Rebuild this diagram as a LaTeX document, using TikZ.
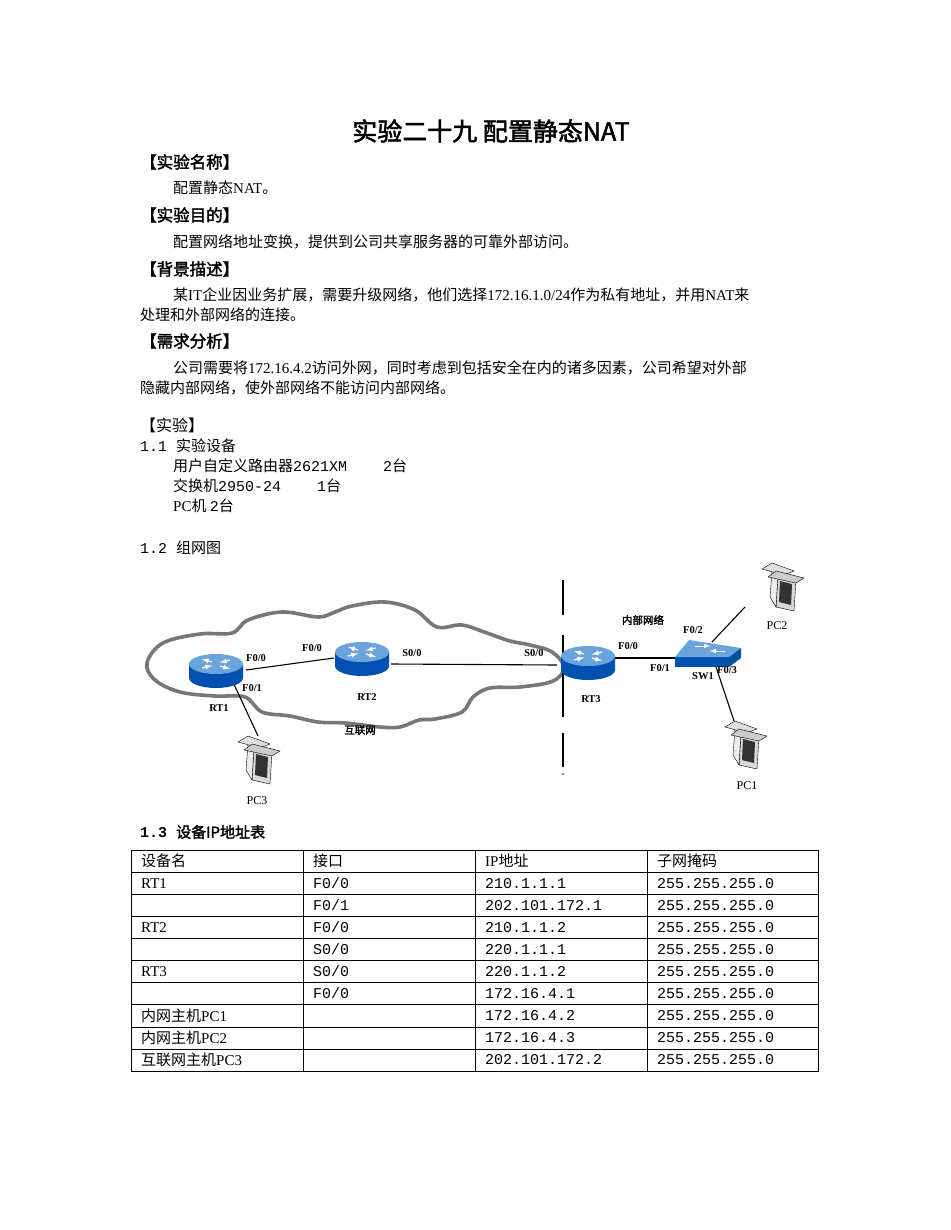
\documentclass[tikz,border=0pt]{standalone}
\usepackage{fontspec}
\setmainfont{Liberation Serif}
\newfontfamily\zh{Noto Sans CJK SC}[AutoFakeBold=2]
\newfontfamily\mono{Liberation Mono}
\usetikzlibrary{shapes.geometric,calc}
\tikzset{
  txt/.style={anchor=west,inner sep=0pt,font=\fontsize{15}{16}\selectfont},
  head/.style={anchor=west,inner sep=0pt,font=\zh\bfseries\fontsize{16.5}{18}\selectfont},
  lbl/.style={inner sep=0pt,font=\bfseries\fontsize{10.5}{11}\selectfont},
  link/.style={line width=1.1pt,black},
  cell/.style={anchor=west,inner sep=0pt,font=\fontsize{15}{16}\selectfont},
  router/.pic={
    \fill[blue!55!cyan!70!black] (-27,-4) -- (-27,10) arc[start angle=180,end angle=0,x radius=27,y radius=10] -- (27,-4) -- cycle;
    \fill[cyan!60!blue!60] (0,-4) ellipse[x radius=27,y radius=10];
    \draw[white,line width=1.3pt,-latex] (-4,-6) -- (-14,-9);
    \draw[white,line width=1.3pt,-latex] (4,-2) -- (14,1);
    \draw[white,line width=1.3pt,-latex] (-14,0) -- (-4,-2.5);
    \draw[white,line width=1.3pt,-latex] (14,-8) -- (4,-5.5);
  },
  pcicon/.pic={
    \fill[gray!30,draw=black,line width=0.4pt] (-6,-20) -- (12,-24) -- (14,8) -- (-4,12) -- cycle;
    \fill[black!80] (-3,-15) -- (9,-18) -- (10,3) -- (-2,6) -- cycle;
    \fill[gray!15,draw=black,line width=0.4pt] (-12,-10) -- (-6,-20) -- (-4,12) -- (-10,16) -- cycle;
    \fill[gray!25,draw=black,line width=0.4pt] (-20,18) -- (2,12) -- (12,16) -- (-10,24) -- cycle;
    \fill[gray!40,draw=black,line width=0.4pt] (-14,10) -- (14,4) -- (22,9) -- (-6,16) -- cycle;
  }
}
\begin{document}
\begin{tikzpicture}[x=1pt,y=-1pt]
\useasboundingbox[fill=white] (0,0) rectangle (950,1230);
% title
\node[inner sep=0pt,font=\zh\bfseries\fontsize{25}{27}\selectfont] (title) at (491,131) {实验二十九 配置静态NAT};
\node[head] (h1) at (140,162) {【实验名称】};
\node[txt] (t1) at (173,188) {{\zh 配置静态}NAT{\zh 。}};
\node[head] (h2) at (140,215) {【实验目的】};
\node[txt] (t2) at (173,242) {\zh 配置网络地址变换，提供到公司共享服务器的可靠外部访问。};
\node[head] (h3) at (140,269) {【背景描述】};
\node[txt] (t3) at (173,295) {{\zh 某}IT{\zh 企业因业务扩展，需要升级网络，他们选择}172.16.1.0/24{\zh 作为私有地址，并用}NAT{\zh 来}};
\node[txt] (t4) at (140,315) {\zh 处理和外部网络的连接。};
\node[head] (h4) at (140,341) {【需求分析】};
\node[txt] (t5) at (173,368) {{\zh 公司需要将}172.16.4.2{\zh 访问外网，同时考虑到包括安全在内的诸多因素，公司希望对外部}};
\node[txt] (t6) at (140,388) {\zh 隐藏内部网络，使外部网络不能访问内部网络。};
\node[txt,font=\zh\fontsize{16}{17}\selectfont] (t7) at (140,425) {【实验】};
\node[txt] (t8) at (140,446) {{\mono 1.1 }{\zh 实验设备}};
\node[txt] (t9) at (173,466) {{\zh 用户自定义路由器}{\mono 2621XM\ \ \ \ 2}{\zh 台}};
\node[txt] (t10) at (173,486) {{\zh 交换机}{\mono 2950-24\ \ \ \ 1}{\zh 台}};
\node[txt] (t11) at (173,506) {PC{\zh 机 }{\mono 2}{\zh 台}};
\node[txt] (t12) at (140,548) {{\mono 1.2 }{\zh 组网图}};
\node[txt,font=\zh\bfseries\fontsize{15}{16}\selectfont] (t13) at (140,832) {{\mono\bfseries 1.3 }设备IP地址表};

% cloud
\draw[line width=3.6pt,draw=black!75!cyan!35!gray,fill=white] plot[smooth cycle,tension=0.6] coordinates {
 (147,663) (163,643) (200,634) (232,633) (248,620) (282,612) (318,617) (335,612) (352,606) (385,602) (415,610) (437,627) (462,625) (487,633) (510,641) (530,645) (552,652) (564,667) (553,681) (520,687) (490,688) (473,697) (462,712) (435,719) (419,720) (400,727) (380,727) (345,723) (318,722) (290,716) (262,712) (245,697) (215,696) (180,692) (155,680)};

% dashed divider
\draw[line width=1.5pt] (563,580) -- (563,615);
\draw[line width=1.5pt] (563,635) -- (563,717);
\draw[line width=1.5pt] (563,733) -- (563,767);
\fill (563,774) circle (0.9);

% devices
\coordinate (RT1) at (216,668);
\coordinate (RT2) at (362,656);
\coordinate (RT3) at (588,660);
\coordinate (SW1) at (706,653);
\coordinate (PC2) at (782,587);
\coordinate (PC1) at (745,745);
\coordinate (PC3) at (258,760);

\draw[link] ($(RT1)+(30,2)$) coordinate (a1) -- ($(RT2)+(-28,2)$) coordinate (a2);
\draw[link] (391,664) coordinate (b1) -- (557,665) coordinate (b2);
\draw[link] (612,658) coordinate (c1) -- (684,658) coordinate (c2);
\draw[link] (712,642) coordinate (d1) -- (745,607) coordinate (d2);
\draw[link] (716,667) coordinate (e1) -- (734,721) coordinate (e2);
\draw[link] (232,680) coordinate (f1) -- (258,736) coordinate (f2);

\pic at (RT1) {router};
\pic at (RT2) {router};
\pic at (RT3) {router};
% switch
\fill[blue!55!cyan!70!black] (675,657) -- (729,657) -- (729,667) -- (675,667) -- cycle;
\fill[cyan!60!blue!60] (675,657) -- (729,657) -- (741,648) -- (689,640) -- cycle;
\fill[blue!45!cyan!60!black] (729,657) -- (741,648) -- (741,658) -- (729,667) -- cycle;
\draw[white,line width=1pt,-latex] (695,646) -- (710,646);
\draw[white,line width=1pt,-latex] (725,651) -- (710,651);
\pic[yscale=-1] at (PC2) {pcicon};
\pic[yscale=-1] at (PC1) {pcicon};
\pic[yscale=-1] at (PC3) {pcicon};

% labels
\node[lbl] (lRT1) at (219,708) {RT1};
\node[lbl] (lRT2) at (367,697) {RT2};
\node[lbl] (lRT3) at (591,699) {RT3};
\node[lbl] (lSW) at (703,676) {SW1};
\node[lbl] (lneibu) at (643,620) {\zh\bfseries 内部网络};
\node[lbl] (lhulian) at (360,730) {\zh\bfseries 互联网};
\node[lbl] (f1a) at (256,658) {F0/0};
\node[lbl] (f1b) at (252,688) {F0/1};
\node[lbl] (f2a) at (312,648) {F0/0};
\node[lbl] (s2a) at (412,653) {S0/0};
\node[lbl] (s3a) at (534,653) {S0/0};
\node[lbl] (f3a) at (628,646) {F0/0};
\node[lbl] (sw1) at (660,668) {F0/1};
\node[lbl] (sw2) at (693,630) {F0/2};
\node[lbl] (sw3) at (727,670) {F0/3};
\node[inner sep=0pt,font=\fontsize{12}{13}\selectfont] (lPC2) at (777,626) {PC2};
\node[inner sep=0pt,font=\fontsize{12}{13}\selectfont] (lPC1) at (747,786) {PC1};
\node[inner sep=0pt,font=\fontsize{12}{13}\selectfont] (lPC3) at (257,801) {PC3};

% table
\draw[line width=0.6pt] (131,850) rectangle (818,1071);
\foreach \i in {1,...,9} \draw[line width=0.6pt] (131,850+22.1*\i) -- (818,850+22.1*\i);
\foreach \x in {303,475,647} \draw[line width=0.6pt] (\x,850) -- (\x,1071);
\def\row#1#2#3#4#5{%
 \node[cell] at (141,861+22.1*#1) {#2};
 \node[cell] at (313,861+22.1*#1) {#3};
 \node[cell,font=\mono\fontsize{15}{16}\selectfont] at (485,861+22.1*#1) {#4};
 \node[cell,font=\mono\fontsize{15}{16}\selectfont] at (657,861+22.1*#1) {#5};}
\node[cell] (th1) at (141,861) {\zh 设备名};
\node[cell] (th2) at (313,861) {\zh 接口};
\node[cell] (th3) at (485,861) {IP{\zh 地址}};
\node[cell] (th4) at (657,861) {\zh 子网掩码};
\row{1}{RT1}{\mono F0/0}{210.1.1.1}{255.255.255.0}
\row{2}{}{\mono F0/1}{202.101.172.1}{255.255.255.0}
\row{3}{RT2}{\mono F0/0}{210.1.1.2}{255.255.255.0}
\row{4}{}{\mono S0/0}{220.1.1.1}{255.255.255.0}
\row{5}{RT3}{\mono S0/0}{220.1.1.2}{255.255.255.0}
\row{6}{}{\mono F0/0}{172.16.4.1}{255.255.255.0}
\row{7}{{\zh 内网主机}PC1}{}{172.16.4.2}{255.255.255.0}
\row{8}{{\zh 内网主机}PC2}{}{172.16.4.3}{255.255.255.0}
\row{9}{{\zh 互联网主机}PC3}{}{202.101.172.2}{255.255.255.0}
\end{tikzpicture}
\end{document}
